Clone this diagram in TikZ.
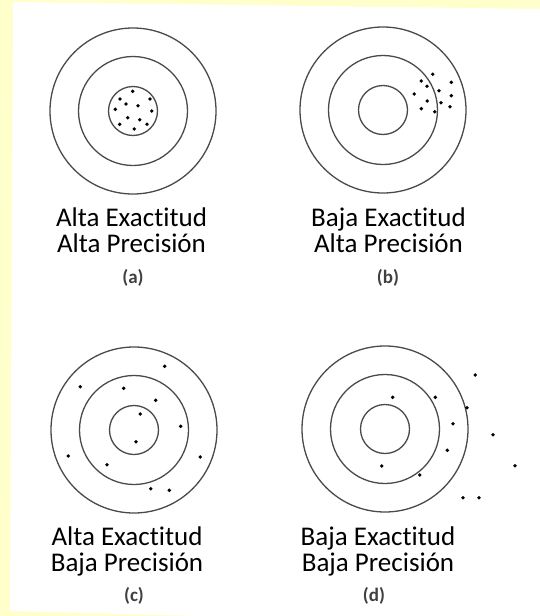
\documentclass[tikz,border=0pt]{standalone}
\usepackage{fontspec}
\setmainfont[Ligatures=NoCommon]{Carlito}
\usepackage{xcolor}
\usetikzlibrary{positioning}
\definecolor{pagebg}{HTML}{FFFFCC}
\definecolor{ringgray}{HTML}{4A4A4A}

\begin{document}
\begin{tikzpicture}[
  x=1pt, y=-1pt,
  ring/.style={circle, draw=ringgray, line width=1.3pt, inner sep=0pt,
    outer sep=0pt},
  outerring/.style={ring, minimum size=166pt},
  midring/.style={ring, minimum size=109pt},
  innerring/.style={ring, minimum size=49pt},
  hit/.style={fill=black},
  caption/.style={align=center, inner sep=0pt,
    font=\fontsize{27}{26}\selectfont},
  tag/.style={inner sep=0pt, text=black!75,
    font=\fontsize{19}{20}\selectfont\bfseries},
]
  % -- Page background --
  \fill[pagebg] (0,0) rectangle (540,616);
  \fill[white] (13,2) -- (540,9) -- (540,616) -- (200,616) -- (10,611) -- cycle;

  % -- Targets --
  \foreach \t/\cx/\cy in {a/133/111, b/383/110, c/134/430, d/385/429} {
    \node[outerring] (\t-outer) at (\cx,\cy) {};
    \node[midring] (\t-mid) at (\cx,\cy) {};
    \node[innerring] (\t-inner) at (\cx,\cy) {};
  }

  % -- Hits (a) --
  \begin{scope}[shift={(133,111)}]
    \foreach \dx/\dy in {-0.3/-19.7, -13/-12, 17/-12, -7/-7, 5/-5.3,
        -17.7/-1.7, 18.7/0, -5.3/6.7, 6.7/8.7, -13.3/13.3, 14/13.3, 1.3/18}
      \fill[hit] (\dx,\dy) circle (1.9pt);
  \end{scope}

  % -- Hits (b) --
  \begin{scope}[shift={(383,110)}]
    \foreach \dx/\dy in {49.7/-35.7, 38.3/-29, 68.3/-27.7, 44/-23.7,
        56/-19.3, 31.3/-16, 68.3/-14.3, 44.3/-9, 58/-7.3, 38.3/-1.3,
        67/-3.3, 51.7/1.7}
      \fill[hit] (\dx,\dy) circle (1.9pt);
  \end{scope}

  % -- Hits (c) --
  \begin{scope}[shift={(134,430)}]
    \foreach \dx/\dy in {30.7/-63.7, -53.7/-43.3, -10.3/-41.7, 21.7/-29.7,
        6.3/-16, 46.7/-3.7, 2/11.7, -65.7/26, -27/34.7, 66.3/27,
        16.7/58.7, 35.3/60.3}
      \fill[hit] (\dx,\dy) circle (1.9pt);
  \end{scope}

  % -- Hits (d) --
  \begin{scope}[shift={(385,429)}]
    \foreach \dx/\dy in {90.3/-54, 7.7/-31.7, 50.3/-31.7, 82/-21.3,
        68/-5.3, 108/5.7, 62.3/21.3, -3.3/37, 34.7/46, 130/36.7,
        78/68.7, 94/68.7}
      \fill[hit] (\dx,\dy) circle (1.9pt);
  \end{scope}

  % -- Captions --
  \node[caption, anchor=base] (a-text) at (131.5,252)
    {Alta Exactitud\\Alta Precisión};
  \node[caption, anchor=base] (b-text) at (388.5,252)
    {Baja Exactitud\\Alta Precisión};
  \node[caption, anchor=base] (c-text) at (127,571)
    {Alta Exactitud\\Baja Precisión};
  \node[caption, anchor=base] (d-text) at (378,571)
    {Baja Exactitud\\Baja Precisión};

  % -- Sub-figure tags --
  \node[tag] (a-tag) at (133,278) {(a)};
  \node[tag] (b-tag) at (388,278) {(b)};
  \node[tag] (c-tag) at (134,596) {(c)};
  \node[tag] (d-tag) at (374,596) {(d)};
\end{tikzpicture}
\end{document}
